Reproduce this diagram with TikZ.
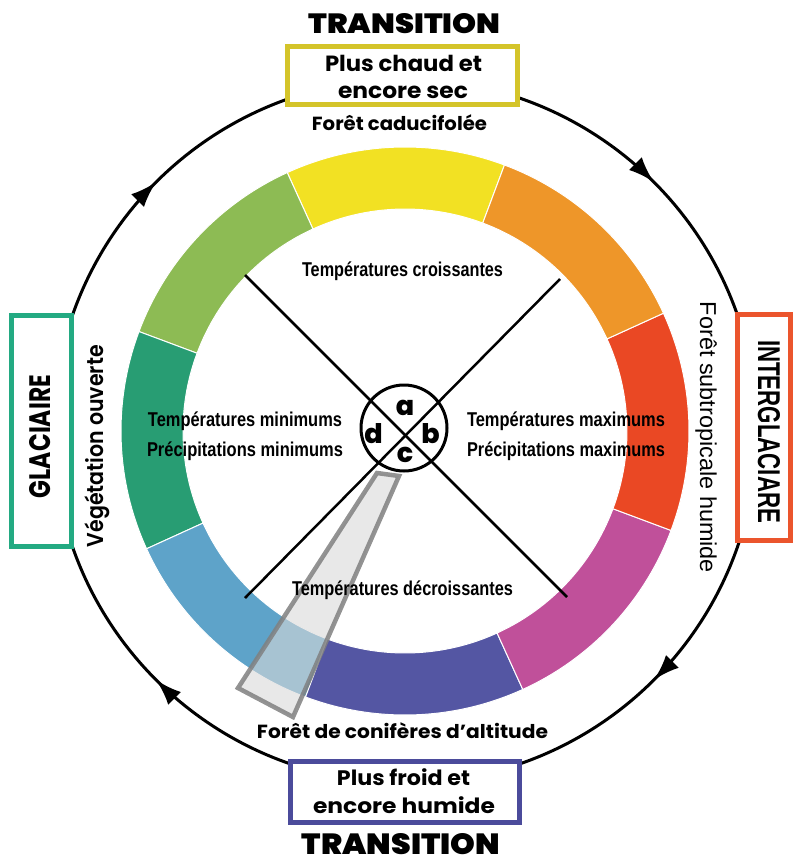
\documentclass[tikz,border=0pt]{standalone}
\usepackage{fontspec}
\usepackage{graphicx}
\setmainfont{Poppins}
\newfontfamily\popf{Poppins}
\IfFontExistsTF{Poppins Black}{\newfontfamily\popblk{Poppins Black}}{\newcommand\popblk{\popf\bfseries}}
\IfFontExistsTF{Poppins ExtraBold}{\newfontfamily\popxb{Poppins ExtraBold}}{\newcommand\popxb{\popf\bfseries}}
\IfFontExistsTF{Poppins SemiBold}{\newfontfamily\popsb{Poppins SemiBold}}{\newcommand\popsb{\popf\bfseries}}
\newcommand\popbd{\popf\bfseries}
\newfontfamily\libf{Liberation Sans}
\IfFontExistsTF{Noto Sans Medium}{\newfontfamily\medf{Noto Sans Medium}}{\newcommand\medf{\libf}}
\IfFontExistsTF{Noto Sans Condensed Bold}{\newfontfamily\cbf{Noto Sans Condensed Bold}}{\newcommand\cbf{\libf\bfseries}}
\newcommand\fz[1]{\fontsize{#1}{#1}\selectfont}
\usetikzlibrary{arrows.meta,decorations.markings}
\definecolor{cyel}{HTML}{F2E123}
\definecolor{corg}{HTML}{EE9629}
\definecolor{cred}{HTML}{EA4824}
\definecolor{cmag}{HTML}{C0509A}
\definecolor{cind}{HTML}{5456A3}
\definecolor{cblu}{HTML}{5EA3C9}
\definecolor{ctea}{HTML}{289D73}
\definecolor{cgrn}{HTML}{8DBB54}
\definecolor{bxyel}{HTML}{D4C42A}
\definecolor{bxind}{HTML}{4B4B9B}
\definecolor{bxtea}{HTML}{23AA82}
\definecolor{bxred}{HTML}{EB552D}
\begin{document}
\begin{tikzpicture}[x=1pt,y=-1pt,
  lbl/.style={inner sep=0pt, anchor=base},
  boxsty/.style={rectangle, fill=white, line width=5pt, inner sep=0pt},
  hubl/.style={inner sep=0pt, anchor=base, font=\popxb\fz{27}},
  wedgesty/.style={fill=black!15, fill opacity=0.6, draw=black!50, draw opacity=0.85, line width=4.5pt, line join=miter},
  cyc/.style={line width=3pt, postaction={decorate}, decoration={markings,
     mark=at position 0.125 with {\arrow{Latex[length=26pt,width=18pt]}},
     mark=at position 0.375 with {\arrow{Latex[length=26pt,width=18pt]}},
     mark=at position 0.625 with {\arrow{Latex[length=26pt,width=18pt]}},
     mark=at position 0.875 with {\arrow{Latex[length=26pt,width=18pt]}}}}
]
\useasboundingbox (0,0) rectangle (795,859);
\coordinate (C) at (405,431);
\coordinate (ctop) at (405,79);
% cycle circle
\draw[cyc] (ctop) arc[start angle=-90, end angle=270, radius=352];
% boxes
\node[boxsty, draw=bxyel, minimum width=229.5pt, minimum height=58pt] (topbox) at (402.25,75.5) {};
\node[boxsty, draw=bxind, minimum width=229pt, minimum height=61pt] (botbox) at (405,792) {};
\node[boxsty, draw=bxtea, minimum width=60pt, minimum height=231pt] (leftbox) at (41.5,431) {};
\node[boxsty, draw=bxred, minimum width=53pt, minimum height=226pt] (rightbox) at (764,427.5) {};
% colour ring
\begin{scope}[shift={(C)}]
\foreach \m/\col in {92/cyel,137/cgrn,182/ctea,227/cblu,272/cind,317/cmag,2/cred,47/corg}{
  \pgfmathsetmacro\aa{-\m+22.5}
  \pgfmathsetmacro\bb{-\m-22.5}
  \filldraw[fill=\col, draw=white, line width=1pt] (\aa:284) arc[start angle=\aa, end angle=\bb, radius=284] -- (\bb:222) arc[start angle=\bb, end angle=\aa, radius=222] -- cycle;
}
\end{scope}
% cross lines
\coordinate (tl) at (245,275);
\coordinate (br) at (567,597);
\coordinate (tr) at (560,279);
\coordinate (bl) at (245,598);
\draw[line width=2.5pt] (tl) -- (br);
\draw[line width=2.5pt] (tr) -- (bl);
% hub
\node[circle, draw, line width=3pt, minimum size=86pt, inner sep=0pt] (hub) at (404,428) {};
\node[hubl] (la) at (405,415) {a};
\node[hubl] (lb) at (430.5,443) {b};
\node[hubl] (ld) at (373.5,443) {d};
\node[hubl] (lc) at (405,462) {c};
% pointer wedge
\filldraw[wedgesty] (377,473) -- (399,476) -- (293,717) -- (238,688) -- cycle;
% top texts
\node[lbl] (ttop) at (404.5,34) {\resizebox{192pt}{20pt}{\popblk TRANSITION}};
\node[lbl] (t1a) at (403.5,71.5) {\resizebox{157pt}{\height}{\popbd\fz{22}Plus chaud et}};
\node[lbl] (t1b) at (403,99) {\resizebox{130pt}{\height}{\popbd\fz{22}encore sec}};
\node[lbl] (fcad) at (399.5,130) {\resizebox{175pt}{\height}{\popbd\fz{19}Forêt caducifolée}};
% bottom texts
\node[lbl] (fcon) at (402.5,738) {\resizebox{291pt}{\height}{\popbd\fz{19}Forêt de conifères d’altitude}};
\node[lbl] (b1a) at (403.5,785) {\resizebox{133pt}{\height}{\popbd\fz{21}Plus froid et}};
\node[lbl] (b1b) at (404,813) {\resizebox{182pt}{\height}{\popbd\fz{21}encore humide}};
\node[lbl] (tbot) at (401,854) {\resizebox{198pt}{21pt}{\popblk TRANSITION}};
% side texts
\node[lbl, rotate=90] (glac) at (50,436.5) {\resizebox{123pt}{21pt}{\popbd GLACIAIRE}};
\node[lbl, rotate=90] (vego) at (103,446) {\resizebox{202pt}{\height}{\popsb\fz{23}Végétation ouverte}};
\node[lbl, rotate=-90] (inter) at (758,431.5) {\resizebox{183pt}{22pt}{\libf\bfseries INTERGLACIARE}};
\node[lbl, rotate=-90] (fsub) at (700,437.5) {\resizebox{271pt}{\height}{\medf\fz{23}Forêt subtropicale humide}};
% inner labels
\node[lbl] (tcr) at (402.5,276) {\resizebox{201pt}{\height}{\cbf\fz{20}Températures croissantes}};
\node[lbl] (tmin) at (245,426) {\resizebox{194pt}{\height}{\cbf\fz{20}Températures minimums}};
\node[lbl] (pmin) at (245,456) {\resizebox{196pt}{\height}{\cbf\fz{20}Précipitations minimums}};
\node[lbl] (tmax) at (566,426) {\resizebox{198pt}{\height}{\cbf\fz{20}Températures maximums}};
\node[lbl] (pmax) at (566,456) {\resizebox{198pt}{\height}{\cbf\fz{20}Précipitations maximums}};
\node[lbl] (tdec) at (402.5,595.5) {\resizebox{221pt}{\height}{\cbf\fz{20}Températures décroissantes}};
\end{tikzpicture}
\end{document}
